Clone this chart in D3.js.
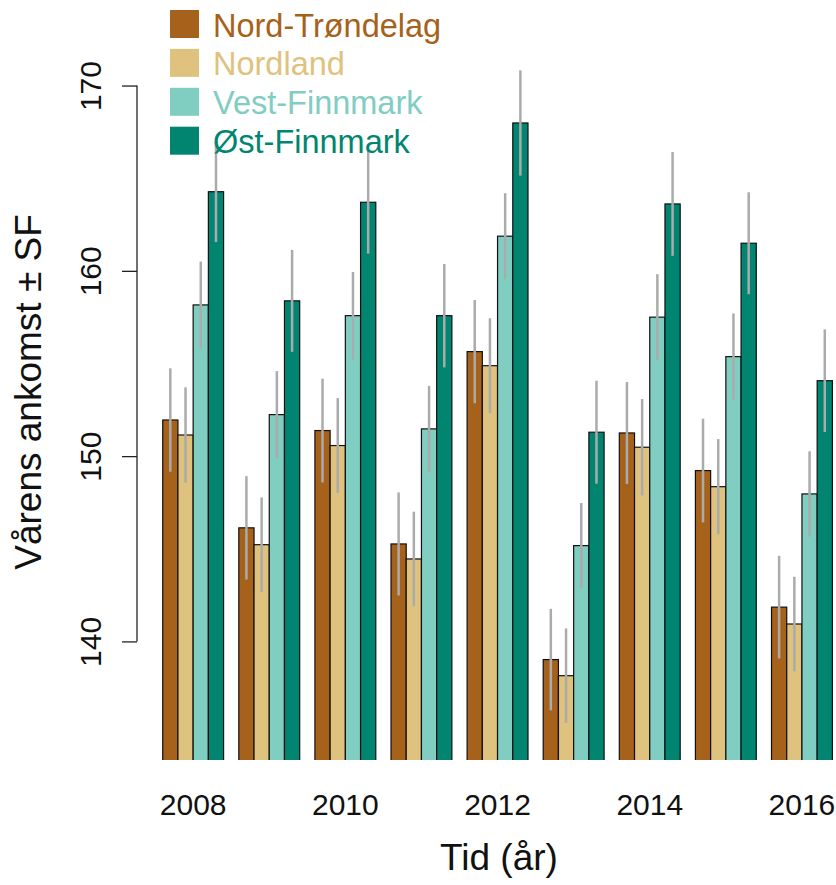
<!DOCTYPE html>
<html>
<head>
<meta charset="utf-8">
<script src="https://cdn.jsdelivr.net/npm/d3@7"></script>
<style>
  html, body { margin: 0; padding: 0; background: #fff; }
  svg { display: block; font-family: "Liberation Sans", Arial, Helvetica, sans-serif; }
</style>
</head>
<body>
<div id="chart"></div>
<script>
// ---- Data ----
const years = [2008, 2009, 2010, 2011, 2012, 2013, 2014, 2015, 2016];
const series = ["Nord-Trøndelag", "Nordland", "Vest-Finnmark", "Øst-Finnmark"];
const colors = ["#A6611A", "#DFC27D", "#80CDC1", "#018571"];

const nordTrondelag = [151.95, 146.13, 151.38, 145.26, 155.64, 139.02, 151.25, 149.22, 141.85];
const nordland      = [151.14, 145.22, 150.57, 144.45, 154.88, 138.15, 150.48, 148.35, 140.94];
const vestFinnmark  = [158.16, 152.24, 157.58, 151.47, 161.87, 145.17, 157.50, 155.37, 147.96];
const ostFinnmark   = [164.27, 158.38, 163.70, 157.58, 167.98, 151.29, 163.61, 161.49, 154.07];

const seNordTrondelag = [2.79, 2.79, 2.80, 2.78, 2.79, 2.74, 2.75, 2.80, 2.77];
const seNordland      = [2.57, 2.55, 2.56, 2.55, 2.56, 2.55, 2.60, 2.57, 2.55];
const seVestFinnmark  = [2.34, 2.35, 2.36, 2.32, 2.32, 2.30, 2.32, 2.33, 2.30];
const seOstFinnmark   = [2.72, 2.75, 2.77, 2.79, 2.84, 2.78, 2.80, 2.75, 2.77];

const yTicks = [140, 150, 160, 170];
const xTickYears = [2008, 2010, 2012, 2014, 2016];
const yLimits = [133.6, 171.4];

const xTitle = "Tid (år)";
const yTitle = "Vårens ankomst ± SF";

// ---- Build table ----
const means = [nordTrondelag, nordland, vestFinnmark, ostFinnmark];
const ses = [seNordTrondelag, seNordland, seVestFinnmark, seOstFinnmark];
const rows = [];
years.forEach((yr, i) => {
  series.forEach((s, j) => {
    rows.push({ year: yr, series: s, idx: j, value: means[j][i], se: ses[j][i] });
  });
});

// ---- Layout ----
const W = 836, H = 885;
const plot = { left: 140, right: 836, top: 59.6, bottom: 760 };

const svg = d3.select("#chart").append("svg")
  .attr("width", W).attr("height", H);

const x = d3.scaleBand()
  .domain(years)
  .range([155.1, 840])
  .paddingInner(0.2)
  .paddingOuter(0.1);

const xInner = d3.scaleBand()
  .domain(series)
  .range([0, x.bandwidth()])
  .padding(0);

const y = d3.scaleLinear()
  .domain(yLimits)
  .range([plot.bottom, plot.top]);

const color = d3.scaleOrdinal().domain(series).range(colors);

// clip
svg.append("defs").append("clipPath").attr("id", "plotclip")
  .append("rect")
  .attr("x", plot.left).attr("y", 0)
  .attr("width", plot.right - plot.left)
  .attr("height", plot.bottom);

const gBars = svg.append("g").attr("clip-path", "url(#plotclip)");

gBars.selectAll("rect.bar")
  .data(rows)
  .join("rect")
  .attr("class", "bar")
  .attr("x", d => x(d.year) + xInner(d.series))
  .attr("width", xInner.bandwidth())
  .attr("y", d => y(d.value))
  .attr("height", d => y(yLimits[0]) + 5 - y(d.value))
  .attr("fill", d => color(d.series))
  .attr("stroke", "#111")
  .attr("stroke-width", 1.2);

gBars.selectAll("line.err")
  .data(rows)
  .join("line")
  .attr("class", "err")
  .attr("x1", d => x(d.year) + xInner(d.series) + xInner.bandwidth() / 2)
  .attr("x2", d => x(d.year) + xInner(d.series) + xInner.bandwidth() / 2)
  .attr("y1", d => y(d.value + d.se))
  .attr("y2", d => y(d.value - d.se))
  .attr("stroke", "#ABABAB")
  .attr("stroke-width", 2.5);

// ---- Y axis ----
const axisX = 137;
const yAxis = d3.axisLeft(y).tickValues(yTicks).tickSize(15).tickFormat(d3.format("d"));
const gy = svg.append("g").attr("transform", `translate(${axisX},0)`).call(yAxis);
gy.select(".domain").remove();
gy.append("line")
  .attr("x1", 0).attr("x2", 0)
  .attr("y1", y(yTicks[0])).attr("y2", y(yTicks[yTicks.length - 1]))
  .attr("stroke", "#222").attr("stroke-width", 1.3);
gy.selectAll(".tick line").attr("stroke", "#222").attr("stroke-width", 1.3);
gy.selectAll(".tick text")
  .attr("transform", "rotate(-90)")
  .attr("x", 0).attr("y", -36).attr("dy", 0)
  .attr("text-anchor", "middle")
  .attr("fill", "#111")
  .style("font-size", "30px")
  .style("font-family", "'Liberation Sans', Arial, sans-serif");

// ---- X tick labels ----
svg.append("g").selectAll("text")
  .data(xTickYears)
  .join("text")
  .attr("x", d => x(d) + x.bandwidth() / 2)
  .attr("y", 815)
  .attr("text-anchor", "middle")
  .attr("fill", "#111")
  .style("font-size", "30px")
  .text(d => d);

// ---- Titles ----
svg.append("text")
  .attr("x", 499).attr("y", 870)
  .attr("text-anchor", "middle")
  .attr("fill", "#111")
  .style("font-size", "37px")
  .text(xTitle);

svg.append("text")
  .attr("transform", "translate(41,392) rotate(-90)")
  .attr("text-anchor", "middle")
  .attr("fill", "#111")
  .style("font-size", "37px")
  .text(yTitle);

// ---- Legend ----
const legend = svg.append("g");
const lg = legend.selectAll("g")
  .data(series)
  .join("g")
  .attr("transform", (d, i) => `translate(170,${10 + i * 38.9})`);
lg.append("rect")
  .attr("width", 29).attr("height", 28)
  .attr("fill", d => color(d));
lg.append("text")
  .attr("x", 43).attr("y", 26.5)
  .attr("fill", d => color(d))
  .style("font-size", "32.5px")
  .text(d => d);
</script>
</body>
</html>
